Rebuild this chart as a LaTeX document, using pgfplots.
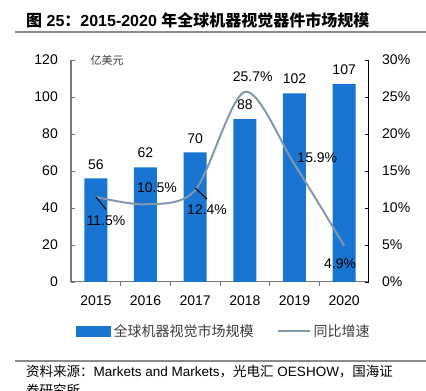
\documentclass[border=0pt]{standalone}
\usepackage{fontspec}
\setmainfont{Liberation Sans}
\newfontfamily\cjk{Noto Sans CJK SC}
\usepackage{pgfplots}
\pgfplotsset{compat=1.18}
\definecolor{barblue}{RGB}{24,118,210}
\definecolor{linecol}{RGB}{132,151,176}
\definecolor{axisgray}{RGB}{120,120,120}
\definecolor{rulegray}{RGB}{140,140,140}
\definecolor{legtext}{RGB}{60,60,60}
\begin{document}
\begin{tikzpicture}
\path[use as bounding box] (0pt,0pt) rectangle (426pt,391pt);
% title
\node[anchor=west, inner sep=0pt, font=\fontsize{16}{16}\selectfont\bfseries] at (26pt,370.5pt)
  {{\cjk\bfseries 图} 25{\cjk\bfseries ：}2015-2020 {\cjk\bfseries 年全球机器视觉器件市场规模}};
\draw[rulegray, line width=1.5pt] (15pt,359pt) -- (426pt,359pt);
% footer
\draw[rulegray, line width=1.5pt] (15pt,30pt) -- (426pt,30pt);
\node[anchor=west, inner sep=0pt, font=\fontsize{13.5}{13.5}\selectfont] at (26pt,19pt)
  {{\cjk 资料来源：}Markets and Markets{\cjk ，光电汇} OESHOW{\cjk ，国海证}};
\node[anchor=west, inner sep=0pt, font=\fontsize{13.5}{13.5}\selectfont] at (26pt,1pt)
  {{\cjk 券研究所}};
\node[font=\fontsize{11}{11}\selectfont\cjk, text=legtext, inner sep=0pt] at (107pt,331pt) {亿美元};

\pgfplotsset{every axis/.append style={
  /pgf/number format/assume math mode=true,
  tick label style={font=\fontsize{14}{14}\selectfont, inner sep=0pt},
}}
\begin{axis}[
  at={(71pt,109pt)}, anchor=south west,
  scale only axis, width=298pt, height=222pt,
  xmin=-0.5, xmax=5.5, ymin=0, ymax=120,
  axis x line*=bottom, axis y line*=left,
  axis line style={-, draw=axisgray, line width=1pt},
  xtick={0,1,2,3,4,5}, xticklabels={2015,2016,2017,2018,2019,2020},
  minor xtick={0.5,1.5,2.5,3.5,4.5},
  ytick={0,20,40,60,80,100,120},
  tick align=inside,
  major tick length=4pt, minor tick length=4pt,
  major x tick style={draw=none},
  minor x tick style={draw=axisgray, line width=0.8pt},
  major y tick style={draw=axisgray, line width=0.8pt},
  xticklabel shift=10pt, yticklabel shift=13pt,
  ybar, bar width=23pt,
  nodes near coords,
  every node near coord/.append style={font=\fontsize{14}{14}\selectfont, inner sep=0pt, yshift=9pt, text=black},
]
\addplot[fill=barblue, draw=none] coordinates {(0,56) (1,62) (2,70) (3,88) (4,102) (5,107)};
\end{axis}
\begin{axis}[
  at={(71pt,109pt)}, anchor=south west,
  scale only axis, width=298pt, height=222pt,
  xmin=-0.5, xmax=5.5, ymin=0, ymax=30,
  axis x line=none, axis y line*=right,
  axis line style={-, draw=black, line width=1pt},
  ytick={0,5,10,15,20,25,30},
  yticklabel={\pgfmathprintnumber{\tick}\%},
  tick align=inside, major tick length=4pt,
  major y tick style={draw=black, line width=0.8pt},
  yticklabel shift=13pt,
  legend columns=2,
  legend style={at={(0.0168,-0.2207)}, anchor=west, draw=none, fill=none, inner sep=0pt,
    column sep=3pt,
    /tikz/every even column/.append style={column sep=23pt},
    nodes={inner sep=0pt, text=legtext, font=\fontsize{14}{14}\selectfont\cjk}},
]
\addlegendimage{legend image code/.code={\fill[barblue] (0pt,-5pt) rectangle (34pt,5pt);}}
\addlegendentry{全球机器视觉市场规模}
\addplot[smooth, linecol, line width=2pt,
  legend image code/.code={\draw[linecol, line width=2pt] (0pt,0pt) -- (32pt,0pt);}]
  coordinates {(0,11.5) (1,10.5) (2,12.4) (3,25.7) (4,15.9) (5,4.9)};
\addlegendentry{同比增速}
\draw[black, line width=1pt] (axis cs:0,11.5) -- (axis cs:0.205,9.82);
\draw[black, line width=1pt] (axis cs:2,12.7) -- (axis cs:2.24,11.2);
\begin{scope}[every node/.style={font=\fontsize{14}{14}\selectfont, inner sep=0pt}]
\node at (axis cs:0.205,8.24) {11.5\%};
\node at (axis cs:1.23,12.7) {10.5\%};
\node at (axis cs:2.24,9.73) {12.4\%};
\node at (axis cs:3.16,27.7) {25.7\%};
\node at (axis cs:4.46,16.76) {15.9\%};
\node at (axis cs:4.92,2.43) {4.9\%};
\end{scope}
\end{axis}
\end{tikzpicture}
\end{document}
